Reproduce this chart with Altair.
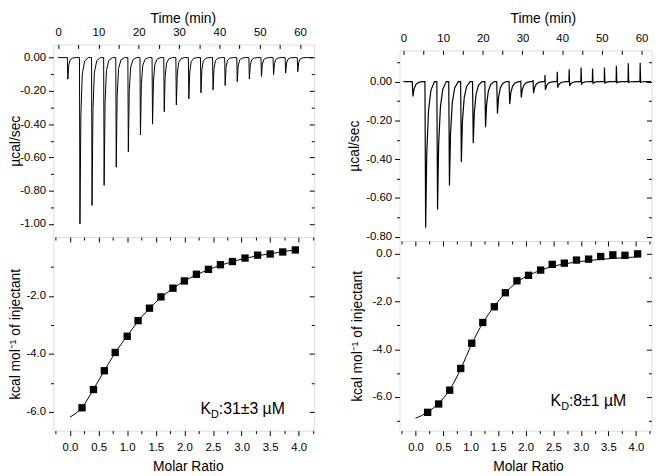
import altair as alt
import pandas as pd

FONT = "Liberation Sans"

# ---------------- data ----------------
# Left experiment, raw thermogram (injection times in min, peak heats in µcal/sec)
lt_time = [2.3, 5.3, 8.3, 11.3, 14.3, 17.3, 20.3, 23.3, 26.2, 29.2,
           32.3, 35.3, 38.3, 41.3, 44.3, 47.3, 50.3, 53.3, 56.3, 59.3]
lt_peak = [-0.13, -1.00, -0.889, -0.768, -0.659, -0.566, -0.465, -0.400, -0.325, -0.285,
           -0.248, -0.212, -0.194, -0.168, -0.145, -0.129, -0.113, -0.103, -0.093, -0.085]
lt_up = [0.0] * 20
lt_end = 63.2
# typical peak shape of the left trace (minutes after injection, fraction of peak)
lt_shape_dt = [0.12, 0.35, 0.7, 1.3, 2.2]
lt_shape_fr = [1.0, 0.35, 0.10, 0.02, 0.0]

# Right experiment, raw thermogram
rt_time = [2.2, 5.4, 8.4, 11.4, 14.4, 17.4, 20.5, 23.5, 26.6, 29.5,
           32.6, 35.6, 38.7, 41.7, 44.7, 47.6, 50.6, 53.6, 56.6, 59.6]
rt_down = [-0.077, -0.754, -0.659, -0.536, -0.414, -0.318, -0.235, -0.165, -0.116, -0.082,
           -0.060, -0.043, -0.031, -0.022, -0.012, -0.009, -0.008, -0.006, -0.004, -0.004]
rt_up = [0.0, 0.0, 0.0, 0.0, 0.0, 0.0, 0.0, 0.0, 0.0, 0.005,
         0.008, 0.034, 0.051, 0.063, 0.073, 0.068, 0.073, 0.082, 0.094, 0.097]
rt_end = 62.4
rt_shape_dt = [0.18, 0.45, 0.9, 1.5, 2.4]
rt_shape_fr = [1.0, 0.5, 0.2, 0.06, 0.0]

# Integrated heats (molar ratio, kcal/mol of injectant)
lb_mr = [0.21, 0.41, 0.60, 0.79, 1.00, 1.19, 1.39, 1.59, 1.80, 2.00,
         2.21, 2.42, 2.63, 2.84, 3.06, 3.28, 3.50, 3.72, 3.94]
lb_dh = [-5.86, -5.23, -4.58, -3.95, -3.39, -2.85, -2.42, -2.03, -1.73, -1.48,
         -1.25, -1.08, -0.92, -0.81, -0.69, -0.59, -0.55, -0.48, -0.41]
lf_mr = [0.0, 0.21, 0.41, 0.60, 0.79, 1.00, 1.19, 1.39, 1.59, 1.80, 2.00,
         2.21, 2.42, 2.63, 2.84, 3.06, 3.28, 3.50, 3.72, 3.94]
lf_dh = [-6.18, -5.85, -5.22, -4.58, -3.96, -3.38, -2.87, -2.43, -2.05, -1.74, -1.48,
         -1.27, -1.09, -0.94, -0.81, -0.70, -0.61, -0.54, -0.47, -0.41]

rb_mr = [0.22, 0.42, 0.62, 0.82, 1.02, 1.22, 1.43, 1.63, 1.84, 2.05,
         2.27, 2.48, 2.70, 2.92, 3.14, 3.36, 3.58, 3.80, 4.03]
rb_dh = [-6.65, -6.30, -5.72, -4.81, -3.75, -2.88, -2.22, -1.63, -1.13, -0.90,
         -0.68, -0.44, -0.39, -0.26, -0.22, -0.11, -0.04, -0.06, 0.0]
rf_mr = [0.0, 0.22, 0.42, 0.62, 0.82, 1.02, 1.22, 1.43, 1.63, 1.84, 2.05,
         2.27, 2.48, 2.70, 2.92, 3.14, 3.36, 3.58, 3.80, 4.05]
rf_dh = [-6.90, -6.64, -6.27, -5.70, -4.83, -3.78, -2.90, -2.20, -1.64, -1.19, -0.90,
         -0.69, -0.53, -0.42, -0.34, -0.28, -0.23, -0.19, -0.16, -0.12]

left_kd = ":31±3 µM"
right_kd = ":8±1 µM"

time_labels = [0, 10, 20, 30, 40, 50, 60]
time_ticks = [0, 5, 10, 15, 20, 25, 30, 35, 40, 45, 50, 55, 60]
mr_labels = [0.0, 0.5, 1.0, 1.5, 2.0, 2.5, 3.0, 3.5, 4.0]
mr_minor = [-0.25, 0.25, 0.75, 1.25, 1.75, 2.25, 2.75, 3.25, 3.75, 4.25]


def trace(times, downs, ups, sdt, sfr, end, up_dt=0.06):
    t_list, v_list = [0.0], [0.0]
    for t, d, u in zip(times, downs, ups):
        t_list.append(t); v_list.append(0.0)
        if u:
            t_list.append(t + up_dt); v_list.append(u)
        for dt, f in zip(sdt, sfr):
            t_list.append(t + dt); v_list.append(d * f)
    t_list.append(end); v_list.append(0.0)
    return pd.DataFrame({"t": t_list, "v": v_list})


def ax(**kw):
    base = dict(grid=False, domain=False, labelFont=FONT, titleFont=FONT,
                labelFontSize=11.5, titleFontSize=14, titleFontWeight="normal",
                labelColor="black", titleColor="black", tickColor="black",
                tickWidth=1, labelFlush=False, labelOverlap=False)
    base.update(kw)
    return alt.Axis(**base)


def minus_expr(fmt):
    return "replace(format(datum.value, '%s'), '\u2212', '-')" % fmt


def thermo(df, W, H, xdom, ydom, ymaj, ymin, title_y, title_x, ytitle_x, lw):
    xs = alt.Scale(domain=xdom, nice=False, zero=False)
    ys = alt.Scale(domain=ydom, nice=False, zero=False)
    base = alt.Chart(df)
    l1 = base.mark_line(color="black", strokeWidth=lw).encode(
        x=alt.X("t:Q", scale=xs, axis=ax(orient="top", values=time_labels, format="d",
                                          ticks=False, tickSize=0, labelPadding=7,
                                          title="Time (min)", titleY=title_y, titleX=title_x,
                                          titleBaseline="top")),
        y=alt.Y("v:Q", scale=ys, axis=ax(orient="left", values=ymaj, labelExpr=minus_expr(".2f"),
                                          tickSize=5, labelPadding=3, title="µcal/sec",
                                          titleX=ytitle_x, titleBaseline="top")))
    l2 = base.mark_line(opacity=0).encode(
        x=alt.X("t:Q", scale=xs, axis=ax(orient="bottom", offset=-H, values=time_ticks,
                                          tickSize=4, labels=False, title=None)),
        y=alt.Y("v:Q", scale=ys, axis=ax(orient="left", values=ymin, tickSize=3,
                                          labels=False, title=None)))
    l3 = base.mark_line(opacity=0).encode(
        x=alt.X("t:Q", scale=xs, axis=None),
        y=alt.Y("v:Q", scale=ys, axis=ax(orient="left", offset=-W, values=ymaj, tickSize=5,
                                          labels=False, title=None)))
    l4 = base.mark_line(opacity=0).encode(
        x=alt.X("t:Q", scale=xs, axis=None),
        y=alt.Y("v:Q", scale=ys, axis=ax(orient="left", offset=-W, values=ymin, tickSize=3,
                                          labels=False, title=None)))
    return alt.layer(l1, l2, l3, l4).resolve_axis(x="independent", y="independent").properties(
        width=W, height=H)


def binding(pts, fit, W, H, xdom, ydom, ymaj, ymin, ylabels, xtitle_x, ytitle_x, kx, ky, kd):
    xs = alt.Scale(domain=xdom, nice=False, zero=False)
    ys = alt.Scale(domain=ydom, nice=False, zero=False)
    l_fit = alt.Chart(fit).mark_line(color="black", strokeWidth=1, interpolate="monotone").encode(
        x=alt.X("mr:Q", scale=xs, axis=ax(orient="bottom", values=mr_labels, format=".1f",
                                           tickSize=5, labelPadding=6, title="Molar Ratio",
                                           titleX=xtitle_x, titleY=29, titleBaseline="top")),
        y=alt.Y("dh:Q", scale=ys, axis=ax(orient="left", values=ylabels,
                                           labelExpr=minus_expr(".1f"), tickSize=5, labelPadding=3,
                                           title="kcal mol\u207b\u00b9 of injectant",
                                           titleX=ytitle_x, titleBaseline="top")))
    l_pts = alt.Chart(pts).mark_point(shape="square", filled=True, size=55, color="black",
                                      opacity=1).encode(
        x=alt.X("mr:Q", scale=xs, axis=ax(orient="bottom", values=mr_minor, tickSize=3,
                                           labels=False, title=None)),
        y=alt.Y("dh:Q", scale=ys, axis=ax(orient="left", values=ymin, tickSize=3,
                                           labels=False, title=None)))
    tdf = pd.DataFrame({"mr": [kx], "dh": [ky]})
    t1 = alt.Chart(tdf).mark_text(text="K", align="left", baseline="alphabetic", fontSize=16,
                                  font=FONT, color="black").encode(
        x=alt.X("mr:Q", scale=xs, axis=ax(orient="bottom", offset=-H, values=mr_labels,
                                           tickSize=5, labels=False, title=None)),
        y=alt.Y("dh:Q", scale=ys, axis=ax(orient="left", offset=-W, values=ymaj, tickSize=5,
                                           labels=False, title=None)))
    t2 = alt.Chart(tdf).mark_text(text="D", align="left", baseline="alphabetic", fontSize=11,
                                  font=FONT, color="black", dx=10.7, dy=4).encode(
        x=alt.X("mr:Q", scale=xs, axis=ax(orient="bottom", offset=-H, values=mr_minor,
                                           tickSize=3, labels=False, title=None)),
        y=alt.Y("dh:Q", scale=ys, axis=ax(orient="left", offset=-W, values=ymin, tickSize=3,
                                           labels=False, title=None)))
    t3 = alt.Chart(tdf).mark_text(text=kd, align="left", baseline="alphabetic", fontSize=16,
                                  font=FONT, color="black", dx=18.6).encode(
        x=alt.X("mr:Q", scale=xs, axis=None),
        y=alt.Y("dh:Q", scale=ys, axis=None))
    return alt.layer(l_fit, l_pts, t1, t2, t3).resolve_axis(
        x="independent", y="independent").properties(width=W, height=H)


lt_df = trace(lt_time, lt_peak, lt_up, lt_shape_dt, lt_shape_fr, lt_end)
rt_df = trace(rt_time, rt_down, rt_up, rt_shape_dt, rt_shape_fr, rt_end)

lt_ymaj = [0.0, -0.2, -0.4, -0.6, -0.8, -1.0]
lt_ymin = [-0.1, -0.3, -0.5, -0.7, -0.9]
rt_ymaj = [0.0, -0.2, -0.4, -0.6, -0.8]
rt_ymin = [0.1, -0.1, -0.3, -0.5, -0.7]

left_top = thermo(lt_df, 264, 195, [-1.15, 63.5], [-1.079, 0.079], lt_ymaj, lt_ymin,
                  -33, 131, -45, 1)
right_top = thermo(rt_df, 255, 193, [-1.0, 62.5], [-0.822, 0.161], rt_ymaj, rt_ymin,
                   -39, 145, -52.6, 1.2)

left_bot = binding(pd.DataFrame({"mr": lb_mr, "dh": lb_dh}), pd.DataFrame({"mr": lf_mr, "dh": lf_dh}),
                   264, 196, [-0.29, 4.27], [-6.65, 0.035], [-2, -4, -6], [-1, -3, -5],
                   [-2, -4, -6], 136, -45, 2.28, -6.07, left_kd)
right_bot = binding(pd.DataFrame({"mr": rb_mr, "dh": rb_dh}), pd.DataFrame({"mr": rf_mr, "dh": rf_dh}),
                    255, 192, [-0.29, 4.28], [-7.42, 0.54], [0, -2, -4, -6], [-1, -3, -5, -7],
                    [0, -2, -4, -6], 130, -49.2, 2.45, -6.39, right_kd)

# empty strip that lowers the right-hand panels relative to the left ones
spacer = alt.Chart(pd.DataFrame({"a": [0]})).mark_point(opacity=0).properties(
    width=255, height=5.7, view=alt.ViewBackground(stroke="transparent"))

left = alt.vconcat(left_top, left_bot, spacing=0, bounds="flush")
right = alt.vconcat(spacer, right_top, right_bot, spacing=0, bounds="flush")

chart = alt.hconcat(left, right, spacing=30.4).properties(
    padding=0).configure_view(stroke="black", strokeWidth=1).configure(background="white")

chart.save("out.html", embed_options={"renderer": "svg", "actions": False})
